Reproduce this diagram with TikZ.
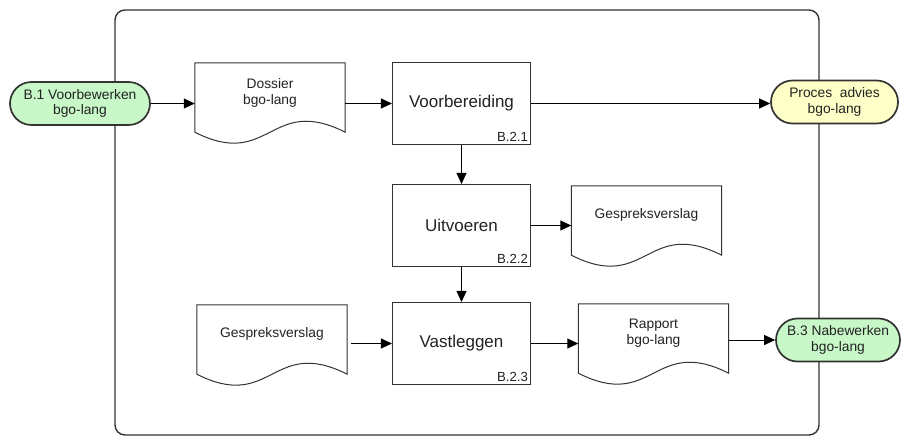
\documentclass[tikz,border=0pt]{standalone}
\usepackage{fontspec}
\setmainfont{Liberation Sans}
\usetikzlibrary{arrows.meta,calc,shapes.misc}
\definecolor{termgreen}{HTML}{C8F7C8}
\definecolor{termyellow}{HTML}{FFFFC8}
\definecolor{edge}{HTML}{333333}
\definecolor{txt}{HTML}{222222}
\tikzset{
  frame/.style={draw=edge, line width=1.4pt, rounded corners=10pt, minimum width=704pt, minimum height=425pt, inner sep=0pt},
  term/.style={draw=edge, line width=1.7pt, rounded rectangle, minimum height=43pt, inner sep=0pt, align=center, font=\fontsize{13.8}{15.5}\selectfont, text=txt},
  procbox/.style={draw=edge, line width=1.1pt, fill=white, minimum width=138pt, minimum height=82pt, inner sep=0pt, font=\fontsize{17}{19}\selectfont, text=txt},
  codelbl/.style={anchor=south east, inner sep=0pt, font=\fontsize{13.2}{14}\selectfont, text=txt},
  docbox/.style={minimum width=150pt, minimum height=69pt, inner sep=0pt,
    append after command={
      \pgfextra{\draw[draw=edge, line width=1.0pt, fill=white]
        (\tikzlastnode.north west) -- (\tikzlastnode.north east) -- (\tikzlastnode.south east)
        .. controls ($(\tikzlastnode.south)+(0,-38)$) and ($(\tikzlastnode.south)+(0,38)$) .. (\tikzlastnode.south west) -- cycle;}}},
  doctext/.style={align=center, inner sep=0pt, font=\fontsize{13.8}{16}\selectfont, text=txt},
  flow/.style={draw=black, line width=1.0pt, -{Triangle[length=11pt,width=10pt]}},
}
\begin{document}
\begin{tikzpicture}[x=1pt,y=-1pt]
\useasboundingbox (0,0) rectangle (901,437);
% frame
\node[frame] (fr) at (467,222.5) {};
% terminals
\node[term, fill=termgreen, minimum width=140pt] (b1) at (80,103.5) {B.1 Voorbewerken\\bgo-lang};
\node[term, fill=termyellow, minimum width=127pt] (pa) at (834.5,102) {Proces~ advies\\bgo-lang};
\node[term, fill=termgreen, minimum width=124pt] (b3) at (838,340) {B.3 Nabewerken\\bgo-lang};
% process boxes
\node[procbox] (vb) at (461.5,103.5) {Voorbereiding};
\node[codelbl] at ($(vb.south east)+(-3,-3)$) {B.2.1};
\node[procbox] (ui) at (461.5,225.5) {Uitvoeren};
\node[codelbl] at ($(ui.south east)+(-3,-3)$) {B.2.2};
\node[procbox] (vl) at (461.5,343.5) {Vastleggen};
\node[codelbl] at ($(vl.south east)+(-3,-3)$) {B.2.3};
% documents
\node[docbox] (dos) at (270,97.5) {};
\node[doctext] at ($(dos.north)+(0,30)$) {Dossier\\bgo-lang};
\node[docbox] (gv1) at (646.5,220.5) {};
\node[doctext] at ($(gv1.north)+(0,29)$) {Gespreksverslag};
\node[docbox] (gv2) at (272,339.5) {};
\node[doctext] at ($(gv2.north)+(0,29)$) {Gespreksverslag};
\node[docbox] (rap) at (653.5,338.5) {};
\node[doctext] at ($(rap.north)+(0,29)$) {Rapport\\bgo-lang};
% connectors
\draw[flow] (b1.east) -- (b1.east -| dos.west);
\draw[flow] (dos.east |- b1.east) -- (vb.west |- b1.east);
\draw[flow] (vb.east |- b1.east) -- (pa.west |- b1.east);
\draw[flow] (vb.south) -- (ui.north);
\draw[flow] (ui.east) -- (ui.east -| gv1.west);
\draw[flow] (ui.south) -- (vl.north);
\draw[flow, shorten <=4pt] (gv2.east |- vl.east) -- (vl.west);
\draw[flow] (vl.east) -- (vl.east -| rap.west);
\draw[flow] (rap.east |- b3.west) -- (b3.west);
\end{tikzpicture}
\end{document}
